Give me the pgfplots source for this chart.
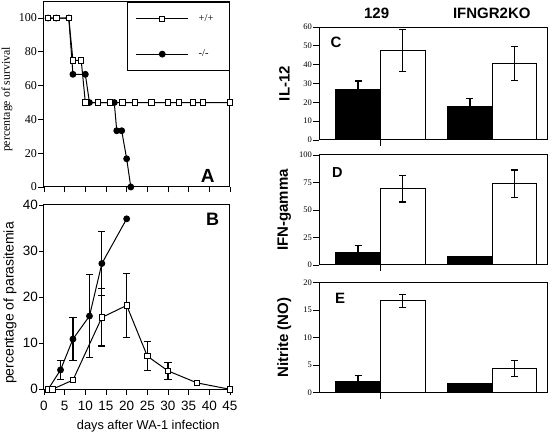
\documentclass[border=0pt]{standalone}
\usepackage{fontspec}
\setmainfont{Liberation Serif}
\setsansfont{Liberation Sans}
\usepackage{pgfplots}
\pgfplotsset{compat=1.18}
\newcommand\fs[1]{\fontsize{#1}{#1}\selectfont}

\pgfplotsset{
  panel/.style={scale only axis, clip=false,
    axis line style={line width=1pt},
    every tick/.style={black, line width=0.9pt},
    tick align=outside, tick pos=left,
    /pgf/number format/assume math mode=true},
  sq/.style={black, line width=1pt, mark=square*, mark size=2.7pt,
    mark options={fill=white, line width=0.9pt, solid}},
  ci/.style={black, line width=1pt, mark=*, mark size=2.9pt,
    mark options={fill=black, solid}},
  eb/.style={draw=none, forget plot, error bars/.cd, y dir=both, y explicit,
    error bar style={draw=black, line width=1.2pt},
    error mark options={draw=black, line width=1.2pt, mark size=3.6pt, rotate=90}},
  barpanel/.style={panel, width=228pt, xmin=0.45, xmax=2.49, ymin=0,
    xtick={1}, xticklabels={}, ybar, bar width=0.4, major tick length=6pt,
    yticklabel style={font=\fs{8.5}, inner sep=1pt},
    ylabel style={font=\sffamily\bfseries\fs{15}, at={(axis description cs:-0.152,0.5)}, anchor=center}},
  blk/.style={fill=black, draw=black, line width=1pt, bar shift=-0.2,
    error bars/.cd, y dir=plus, y explicit,
    error bar style={draw=black, line width=1.3pt},
    error mark options={draw=black, line width=1.3pt, mark size=3.6pt, rotate=90}},
  blkn/.style={fill=black, draw=black, line width=1pt, bar shift=-0.2},
  wht/.style={fill=white, draw=black, line width=1pt, bar shift=0.2,
    error bars/.cd, y dir=both, y explicit,
    error bar style={draw=black, line width=1.3pt},
    error mark options={draw=black, line width=1.3pt, mark size=3.6pt, rotate=90}},
}

\begin{document}
\begin{tikzpicture}[x=1pt,y=1pt]
\path[use as bounding box] (0,0) rectangle (552,434);

% ---------------- Panel A ----------------
\begin{axis}[panel, at={(44pt,247pt)}, anchor=south west,
  width=186pt, height=185pt,
  xmin=0, xmax=45, ymin=0, ymax=109.5,
  xtick={0,5,...,45}, xticklabels={}, ytick={0,20,...,100},
  major tick length=5.5pt,
  yticklabel style={font=\fs{12}, inner sep=1.5pt},
  ylabel={percentage of survival},
  ylabel style={font=\fs{11.8}, at={(axis description cs:-0.199,0.473)}, anchor=center},
  legend cell align=left,
  legend style={draw=black, line width=1pt, at={(rel axis cs:1,1)}, anchor=north east,
    font=\fs{10.5}, inner xsep=8pt, inner ysep=10pt, row sep=23pt, column sep=8pt},
  legend image code/.code={\draw[mark repeat=2,mark phase=2,#1] plot coordinates {(0pt,0pt) (26pt,0pt) (52pt,0pt)};},
]
\addlegendimage{sq}
\addlegendentry{+/+\hspace*{6pt}}
\addlegendimage{ci}
\addlegendentry{-/-\hspace*{6pt}}
\addplot[ci, forget plot] coordinates {
  (1,100) (3,100) (6,100) (7,66.7) (10,66.7) (11,50) (17,50)
  (17.6,33.3) (18.8,33.3) (20,16.7) (21,0)};
\addplot[sq, forget plot] coordinates {
  (1,100) (3,100) (6,100) (7,75) (9,75) (10,50) (13,50) (16,50) (19,50)
  (22,50) (26,50) (30,50) (32.7,50) (36,50) (38.5,50) (45,50)};
\node[font=\sffamily\bfseries\fs{19}] at (axis cs:39.6,6.5) {A};
\end{axis}

% ---------------- Panel B ----------------
\begin{axis}[panel, at={(44pt,44pt)}, anchor=south west,
  width=186pt, height=185pt,
  xmin=0, xmax=45, ymin=-0.15, ymax=40,
  xtick={0,5,...,45}, ytick={0,10,...,40},
  major tick length=5pt,
  ticklabel style={font=\sffamily\fs{13.5}},
  yticklabel style={inner sep=1pt},
  xticklabel style={yshift=-3pt},
  xlabel={days after WA-1 infection},
  xlabel style={font=\sffamily\fs{12.8}, at={(axis description cs:0.56,-0.198)}, anchor=center},
  ylabel={percentage of parasitemia},
  ylabel style={font=\sffamily\fs{14}, at={(axis description cs:-0.183,0.47)}, anchor=center},
]
\addplot[eb] coordinates {
  (4,4.2) +- (0,2) (7,10.9) +- (0,4.7) (11,15.9) +- (0,9) (14,27.3) +- (0,7)};
\addplot[eb] coordinates {
  (14,15.6) +- (0,6.2) (20,18.2) +- (0,7) (25,7.2) +- (0,3.1) (30,4.0) +- (0,1.9)};
\addplot[ci] coordinates {
  (1,0) (4,4.2) (7,10.9) (11,15.9) (14,27.3) (20,37.0)};
\addplot[sq] coordinates {
  (1,0) (2,0) (7,2.0) (14,15.6) (20,18.2) (25,7.2) (30,4.0) (37,1.4) (45,0)};
\node[font=\sffamily\bfseries\fs{18}] at (axis cs:40.8,37.0) {B};
\end{axis}

% ---------------- Panel C ----------------
\begin{axis}[barpanel, at={(319pt,294pt)}, anchor=south west,
  height=113pt, ymax=60, ytick={0,10,...,60},
  ylabel={IL-12}]
\addplot[blk] coordinates {(1,26.9) +- (0,4.5) (2,17.9) +- (0,4)};
\addplot[wht] coordinates {(1,47.5) +- (0,11) (2,40.5) +- (0,9)};
\node[font=\sffamily\bfseries\fs{15}] at (axis cs:0.602,51.8) {C};
\node[font=\sffamily\bfseries\fs{15}, anchor=base, yshift=9pt] at (axis cs:0.966,60) {129};
\node[font=\sffamily\bfseries\fs{15}, anchor=base, yshift=9pt] at (axis cs:1.996,60) {IFNGR2KO};
\end{axis}

% ---------------- Panel D ----------------
\begin{axis}[barpanel, at={(319pt,169pt)}, anchor=south west,
  height=110pt, ymax=100, ytick={0,25,...,100},
  ylabel={IFN-gamma}]
\addplot[blk] coordinates {(1,11.6) +- (0,6.1)};
\addplot[blkn] coordinates {(2,7.8)};
\addplot[wht] coordinates {(1,69.3) +- (0,12) (2,74) +- (0,12.4)};
\node[font=\sffamily\bfseries\fs{14.5}] at (axis cs:0.615,84.5) {D};
\end{axis}

% ---------------- Panel E ----------------
\begin{axis}[barpanel, at={(319pt,41.3pt)}, anchor=south west,
  height=110pt, ymax=20, ytick={0,5,...,20},
  ylabel={Nitrite (NO)}]
\addplot[blk] coordinates {(1,2.0) +- (0,1.1)};
\addplot[blkn] coordinates {(2,1.6)};
\addplot[wht] coordinates {(1,16.7) +- (0,1.2) (2,4.4) +- (0,1.45)};
\node[font=\sffamily\bfseries\fs{15}] at (axis cs:0.638,17.2) {E};
\end{axis}
\end{tikzpicture}
\end{document}
